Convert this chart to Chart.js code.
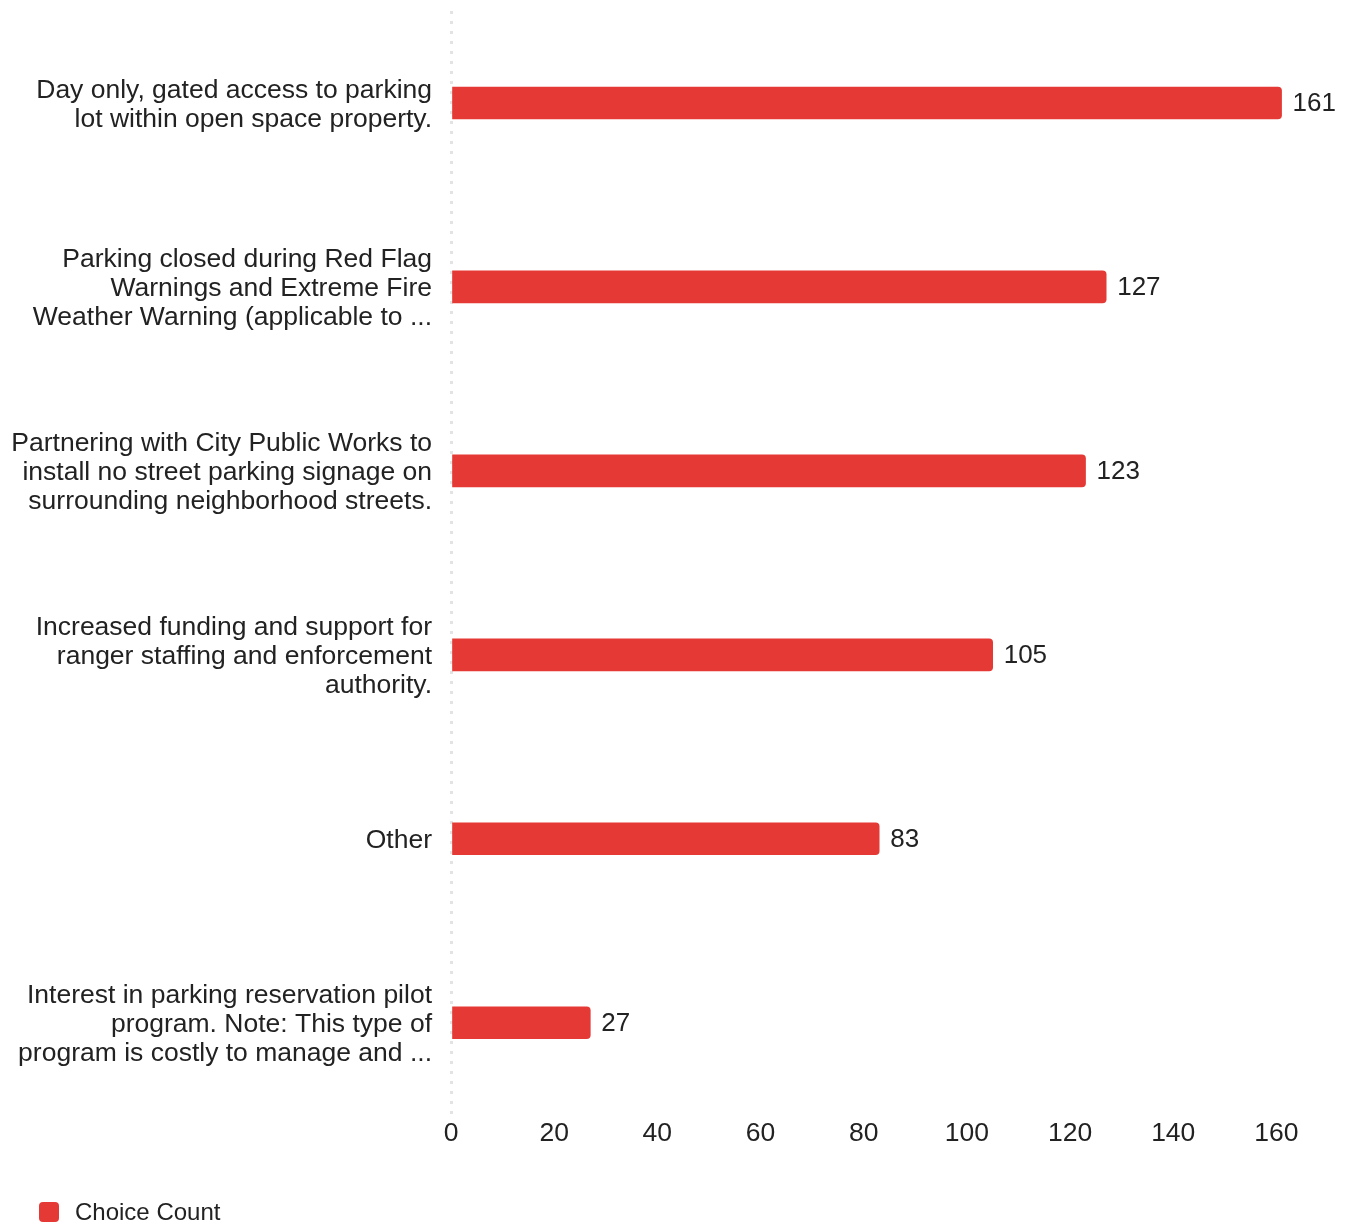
<!DOCTYPE html>
<html lang="en">
<head>
    <meta charset="UTF-8">
    <title>Choice Count</title>
    <script src="https://cdn.jsdelivr.net/npm/chart.js"></script>
    <style>
        html, body { margin: 0; padding: 0; background: #ffffff; }
        #wrap { width: 1346px; height: 1224px; position: relative; }
        .legend {
            position: absolute;
            left: 39px;
            top: 1198px;
            display: flex;
            align-items: center;
            font-family: 'Liberation Sans', Arial, Helvetica, sans-serif;
            font-size: 24px;
            color: #222;
        }
        .legend .box {
            width: 20px;
            height: 20px;
            border-radius: 4px;
            margin-right: 16px;
        }
    </style>
</head>
<body>
<div id="wrap">
    <canvas id="chart"></canvas>
    <div class="legend" id="legend"></div>
</div>
<script>
    // categories (wrapped the same way as the source labels)
    const categories = [
        ['Day only, gated access to parking', 'lot within open space property.'],
        ['Parking closed during Red Flag', 'Warnings and Extreme Fire', 'Weather Warning (applicable to ...'],
        ['Partnering with City Public Works to', 'install no street parking signage on', 'surrounding neighborhood streets.'],
        ['Increased funding and support for', 'ranger staffing and enforcement', 'authority.'],
        'Other',
        ['Interest in parking reservation pilot', 'program. Note: This type of', 'program is costly to manage and ...']
    ];
    const choiceCount = [161, 127, 123, 105, 83, 27];
    const xTicks = [0, 20, 40, 60, 80, 100, 120, 140, 160];

    const FONT = "'Liberation Sans', Arial, Helvetica, sans-serif";
    const TEXT = '#222222';
    const RED = '#e53935';

    // value labels at the end of each bar
    const valueLabels = {
        id: 'valueLabels',
        afterDatasetsDraw(chart) {
            const ctx = chart.ctx;
            const meta = chart.getDatasetMeta(0);
            ctx.save();
            ctx.font = '26px ' + FONT;
            ctx.fillStyle = TEXT;
            ctx.textAlign = 'left';
            ctx.textBaseline = 'middle';
            meta.data.forEach((bar, i) => {
                ctx.fillText(String(chart.data.datasets[0].data[i]), bar.x + 11, bar.y + 1);
            });
            ctx.restore();
        }
    };

    const chart = new Chart(document.getElementById('chart'), {
        type: 'bar',
        data: {
            labels: categories,
            datasets: [{
                label: 'Choice Count',
                data: choiceCount,
                backgroundColor: RED,
                borderRadius: 4,
                borderSkipped: 'start',
                barThickness: 32
            }]
        },
        options: {
            indexAxis: 'y',
            responsive: true,
            maintainAspectRatio: false,
            animation: false,
            layout: { padding: { top: 11, right: 18, left: 0, bottom: 71.5 } },
            scales: {
                x: {
                    min: 0,
                    max: 170,
                    afterBuildTicks: (scale) => {
                        scale.ticks = xTicks.map(v => ({ value: v }));
                    },
                    // only the zero line is drawn, dotted
                    grid: {
                        display: true,
                        drawTicks: false,
                        lineWidth: 3,
                        color: (c) => (c.tick && c.tick.value === 0) ? '#e3e3e3' : 'rgba(0,0,0,0)'
                    },
                    border: { display: false, dash: [3, 7] },
                    ticks: {
                        color: TEXT,
                        padding: 3,
                        font: { family: FONT, size: 26.5 }
                    }
                },
                y: {
                    afterFit: (scale) => {
                        scale.width = 451;
                        scale.paddingTop = 0;
                        scale.paddingBottom = 0;
                    },
                    grid: { display: false, drawTicks: false },
                    border: { display: false },
                    ticks: {
                        color: TEXT,
                        padding: 19,
                        labelOffset: 2,
                        font: { family: FONT, size: 26.5, lineHeight: 1.094 }
                    }
                }
            },
            plugins: {
                legend: { display: false },
                tooltip: { enabled: false }
            }
        },
        plugins: [valueLabels]
    });

    // legend built from the dataset
    const legend = document.getElementById('legend');
    chart.data.datasets.forEach(ds => {
        const box = document.createElement('span');
        box.className = 'box';
        box.style.background = ds.backgroundColor;
        const label = document.createElement('span');
        label.textContent = ds.label;
        legend.appendChild(box);
        legend.appendChild(label);
    });
</script>
</body>
</html>
